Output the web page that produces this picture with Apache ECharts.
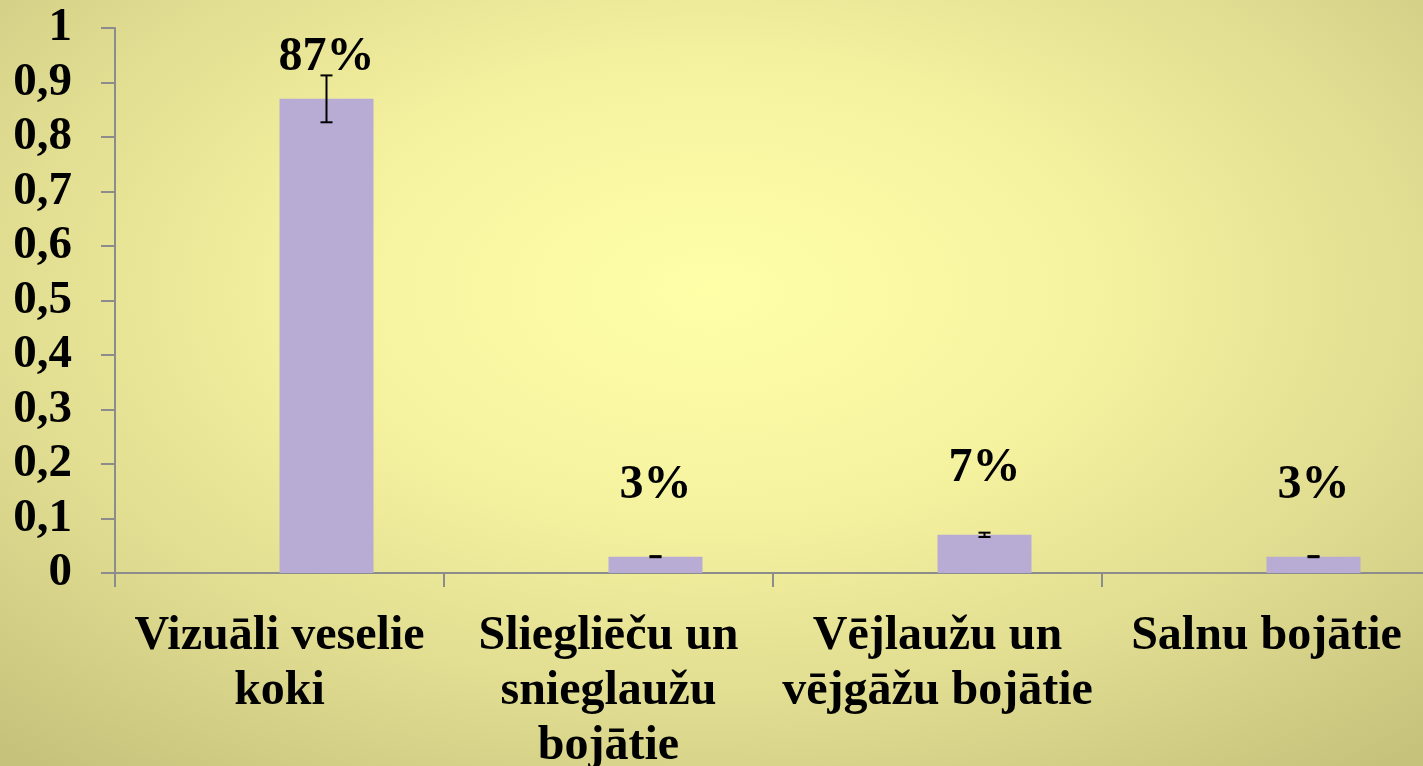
<!DOCTYPE html>
<html>
<head>
<meta charset="utf-8">
<title>Koku bojājumi</title>
<script src="https://cdn.jsdelivr.net/npm/echarts@6/dist/echarts.min.js"></script>
<style>
    html, body { margin: 0; padding: 0; }
    body {
        width: 1423px; height: 766px; overflow: hidden;
        background: radial-gradient(ellipse 75% 80% at 50% 38%, #ffffa8 0%, #f6f3a0 35%, #e2de92 65%, #c6c27c 100%);
    }
    #chart { width: 1423px; height: 766px; }
</style>
</head>
<body>
<div id="chart"></div>
<script>
var categories = ['Vizuāli veselie\nkoki', 'Sliegliēču un\nsnieglaužu\nbojātie', 'Vējlaužu un\nvējgāžu bojātie', 'Salnu bojātie'];
var shares = [0.87, 0.03, 0.07, 0.03];
var errors = [0.043, 0.001, 0.004, 0.001];
var labels = ['87%', '3%', '7%', '3%'];
var labelGap = [41, 71, 66, 71];

var font = '"Liberation Serif", "Times New Roman", serif';
var chart = echarts.init(document.getElementById('chart'));

chart.setOption({
    backgroundColor: 'transparent',
    animation: false,
    grid: { left: 115, top: 28, width: 1316, height: 545, containLabel: false, outerBoundsMode: 'none' },
    xAxis: {
        type: 'category',
        data: categories,
        axisLine: { lineStyle: { color: '#8c8c8c', width: 2 } },
        axisTick: { show: true, length: 14, lineStyle: { color: '#8c8c8c', width: 2 } },
        axisLabel: {
            interval: 0, margin: 36,
            fontFamily: font, fontWeight: 'bold', fontSize: 48, lineHeight: 55, color: '#000'
        },
        splitLine: { show: false }
    },
    yAxis: {
        type: 'value', min: 0, max: 1, interval: 0.1,
        axisLine: { show: true, lineStyle: { color: '#8c8c8c', width: 2 } },
        axisTick: { show: true, length: 14, lineStyle: { color: '#8c8c8c', width: 2 } },
        splitLine: { show: false },
        axisLabel: {
            margin: 43, fontFamily: font, fontWeight: 'bold', fontSize: 47, color: '#000',
            formatter: function (v) { return String(Math.round(v * 10) / 10).replace('.', ','); }
        }
    },
    series: [
        {
            // tukša pirmā sērija (kā Excel grupā)
            type: 'bar', data: [null, null, null, null],
            barWidth: 94, barGap: '0%'
        },
        {
            type: 'bar',
            data: shares.map(function (v, i) {
                return {
                    value: v,
                    label: { distance: labelGap[i] - 24 }
                };
            }),
            barWidth: 94, barGap: '0%',
            itemStyle: { color: '#b8acd4' },
            label: {
                show: true, position: 'top',
                fontFamily: font, fontWeight: 'bold', fontSize: 48, color: '#000',
                formatter: function (p) { return labels[p.dataIndex]; }
            },
            z: 2
        },
        {
            type: 'custom',
            data: shares.map(function (v, i) { return [i, v, errors[i]]; }),
            z: 5,
            renderItem: function (params, api) {
                var i = api.value(0), v = api.value(1), e = api.value(2);
                var catW = api.size([1, 0])[0];
                var x = api.coord([i, v])[0] + catW / 7;
                var yTop = api.coord([i, v + e])[1];
                var yBot = api.coord([i, v - e])[1];
                var cap = 6;
                var style = { stroke: '#000', lineWidth: 2 };
                return {
                    type: 'group',
                    children: [
                        { type: 'line', shape: { x1: x, y1: yTop, x2: x, y2: yBot }, style: style },
                        { type: 'line', shape: { x1: x - cap, y1: yTop, x2: x + cap, y2: yTop }, style: style },
                        { type: 'line', shape: { x1: x - cap, y1: yBot, x2: x + cap, y2: yBot }, style: style }
                    ]
                };
            }
        }
    ]
});
</script>
</body>
</html>
